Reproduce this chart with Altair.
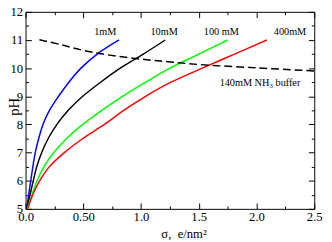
import altair as alt
import pandas as pd

# ---- data ----
ph_1mM = [5.0, 6.0, 7.0, 7.5, 8.0, 8.5, 9.0, 9.5, 10.0, 10.5, 11.0]
sigma_1mM = [0.01, 0.045, 0.084, 0.114, 0.151, 0.207, 0.286, 0.375, 0.48, 0.62, 0.81]

ph_10mM = [5.0, 5.5, 6.0, 6.5, 7.0, 7.5, 8.0, 8.5, 9.0, 9.5, 10.0, 10.5, 11.0]
sigma_10mM = [0.01, 0.039, 0.067, 0.097, 0.14, 0.196, 0.272, 0.37, 0.495, 0.65, 0.82, 1.02, 1.21]

ph_100mM = [5.0, 5.5, 6.0, 6.5, 7.0, 7.5, 8.0, 8.5, 9.0, 9.5, 10.0, 10.5, 11.0]
sigma_100mM = [0.015, 0.056, 0.10, 0.16, 0.244, 0.356, 0.496, 0.66, 0.84, 1.04, 1.25, 1.5, 1.75]

ph_400mM = [5.0, 5.5, 6.0, 6.5, 7.0, 7.5, 8.0, 8.5, 9.0, 9.5, 10.0, 10.5, 11.0]
sigma_400mM = [0.02, 0.062, 0.123, 0.207, 0.336, 0.496, 0.683, 0.85, 1.04, 1.26, 1.53, 1.81, 2.09]

sigma_buffer = [0.12, 0.3, 0.5, 0.7, 1.0, 1.25, 1.5, 2.0, 2.5]
ph_buffer = [11.01, 10.84, 10.63, 10.48, 10.32, 10.22, 10.13, 10.01, 9.90]

series_names = ["1mM", "10mM", "100 mM", "400mM"]
series_colors = ["#0000ff", "#000000", "#00ff00", "#ff0000"]

label_texts = ["1mM", "10mM", "100 mM", "400mM", "140mM NH\u2083 buffer"]
label_sigma = [0.69, 1.20, 1.695, 2.29, 2.03]
label_ph = [11.16, 11.16, 11.16, 11.16, 9.38]

x_major = [0, 0.5, 1, 1.5, 2, 2.5]
x_minor = [0.25, 0.75, 1.25, 1.75, 2.25]
y_major = [5, 6, 7, 8, 9, 10, 11, 12]
y_minor = [5.5, 6.5, 7.5, 8.5, 9.5, 10.5, 11.5]

# ---- tables ----
rows = []
for name, xs, ys in zip(series_names,
                        [sigma_1mM, sigma_10mM, sigma_100mM, sigma_400mM],
                        [ph_1mM, ph_10mM, ph_100mM, ph_400mM]):
    for i, (x, y) in enumerate(zip(xs, ys)):
        rows.append({"series": name, "sigma": x, "pH": y, "i": i})
curves = pd.DataFrame(rows)
buffer_df = pd.DataFrame({"sigma": sigma_buffer, "pH": ph_buffer})
labels_df = pd.DataFrame({"text": label_texts, "sigma": label_sigma, "pH": label_ph})

FONT = "Liberation Serif"
xscale = alt.Scale(domain=[0, 2.5], nice=False, zero=False)
yscale = alt.Scale(domain=[5, 12], nice=False, zero=False)

def tick_axis(orient, values, size, labels=False, **kw):
    return alt.Axis(orient=orient, values=values, tickSize=size, offset=-size,
                    labels=labels, domain=False, grid=False, tickColor="#000000",
                    tickWidth=1, **kw)

ax_x_main = tick_axis("bottom", x_major, 6, labels=True, format="g",
                      labelFont=FONT, labelFontSize=13, labelColor="#000000",
                      labelPadding=2, labelFlush=False,
                      title="\u03c3,\u00a0\u00a0e/nm\u00b2", titleFont=FONT, titleFontSize=13,
                      titleFontWeight="normal", titleColor="#000000",
                      titleX=162, titleY=35, titleAlign="center",
                      titleBaseline="alphabetic")
ax_y_main = tick_axis("left", y_major, 6, labels=True, format="d",
                      labelFont=FONT, labelFontSize=13, labelColor="#000000",
                      labelPadding=3, labelFlush=False,
                      title="pH", titleFont=FONT, titleFontSize=15,
                      titleFontWeight="normal", titleColor="#000000",
                      titleX=-18, titleY=97, titleAngle=270,
                      titleAlign="center", titleBaseline="middle")

lines = alt.Chart(curves).mark_line(strokeWidth=1.5, interpolate="catmull-rom").encode(
    x=alt.X("sigma:Q", scale=xscale, axis=ax_x_main),
    y=alt.Y("pH:Q", scale=yscale, axis=ax_y_main),
    color=alt.Color("series:N", scale=alt.Scale(domain=series_names, range=series_colors),
                    legend=None),
    order="i:Q",
)

dashed = alt.Chart(buffer_df).mark_line(strokeWidth=1.5, strokeDash=[8, 4],
                                        color="#000000", interpolate="catmull-rom").encode(
    x=alt.X("sigma:Q", scale=xscale, axis=tick_axis("bottom", x_minor, 3, title=None)),
    y=alt.Y("pH:Q", scale=yscale, axis=tick_axis("left", y_minor, 3, title=None)),
)

texts = alt.Chart(labels_df).mark_text(font=FONT, fontSize=10.5, color="#000000",
                                       align="center", baseline="alphabetic").encode(
    x=alt.X("sigma:Q", scale=xscale, axis=tick_axis("top", x_major, 6, title=None)),
    y=alt.Y("pH:Q", scale=yscale, axis=tick_axis("right", y_major, 6, title=None)),
    text="text:N",
)

ghost = alt.Chart(buffer_df).mark_point(opacity=0).encode(
    x=alt.X("sigma:Q", scale=xscale, axis=tick_axis("top", x_minor, 3, title=None)),
    y=alt.Y("pH:Q", scale=yscale, axis=tick_axis("right", y_minor, 3, title=None)),
)

chart = alt.layer(lines, dashed, texts, ghost).resolve_axis(
    x="independent", y="independent"
).properties(
    width=296, height=202,
    autosize=alt.AutoSizeParams(type="none"),
    padding={"left": 18, "top": 1, "right": 10, "bottom": 30},
    background="#ffffff",
).configure_view(stroke="#000000", strokeWidth=1)

chart.save("out.html", embed_options={"renderer": "svg", "actions": False})
